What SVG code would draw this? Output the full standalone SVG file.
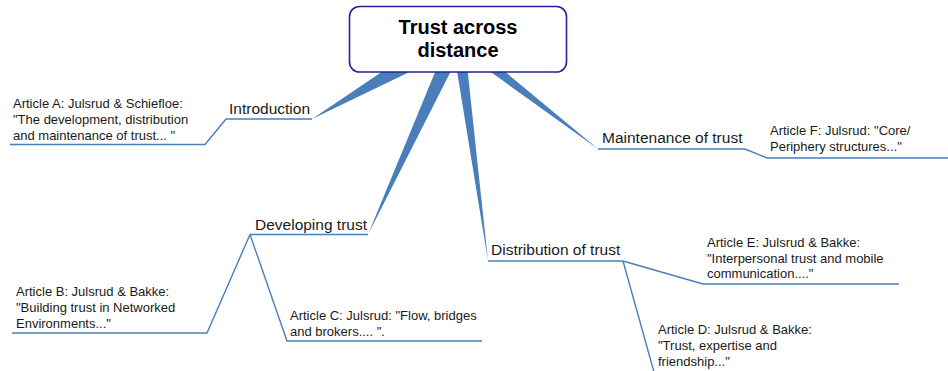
<svg xmlns="http://www.w3.org/2000/svg" width="948" height="371" viewBox="0 0 948 371">
  <style>
    .wedge { fill: #4a7ebb; stroke: none; }
    .link { fill: none; stroke: #4a7ebb; stroke-width: 1.4; stroke-linejoin: miter; }
    .title { font-family: "Liberation Sans", Arial, sans-serif; font-size: 20px; font-weight: bold; fill: #000; text-anchor: middle; }
    .topic { font-family: "Liberation Sans", Arial, sans-serif; font-size: 15.5px; fill: #1a1a1a; }
    .article { font-family: "Liberation Sans", Arial, sans-serif; font-size: 13px; fill: #1a1a1a; }
  </style>
  <rect width="948" height="371" fill="#ffffff"/>

  <!-- tapered branches from the central topic -->
  <g id="branches">
    <polygon class="wedge" points="312,119 392,65 424,65"/>
    <polygon class="wedge" points="368,234.5 438,65 454,65"/>
    <polygon class="wedge" points="488,261 456,65 467,65"/>
    <polygon class="wedge" points="598,149 481,65 497,65"/>
  </g>

  <!-- thin connectors and underlines -->
  <g id="connectors">
    <polyline class="link" points="312,119 226,119 205,144.5 10,144.5"/>
    <polyline class="link" points="368,234.5 250,234.5"/>
    <polyline class="link" points="250,234.5 207,333 12,333"/>
    <polyline class="link" points="250,234.5 287,341 482,341"/>
    <polyline class="link" points="488,261 623,261"/>
    <polyline class="link" points="623,261 703,284 899,284"/>
    <polyline class="link" points="623,261 654,372"/>
    <polyline class="link" points="598,149 745,149 767,158 948,158"/>
  </g>

  <g id="central">
    <rect x="349.5" y="6.5" width="217" height="65.5" rx="10" ry="10" fill="#ffffff" stroke="#22229a" stroke-width="1.6"/>
    <text class="title" x="458" y="33.5">Trust across</text>
    <text class="title" x="458" y="57">distance</text>
  </g>

  <g id="introduction">
    <text class="topic" x="229" y="114">Introduction</text>
  </g>
  <g id="article-a">
    <text class="article" x="13" y="108">Article A: Julsrud &amp; Schiefloe:</text>
    <text class="article" x="13" y="124">"The development, distribution</text>
    <text class="article" x="13" y="140">and maintenance of trust... "</text>
  </g>

  <g id="developing">
    <text class="topic" x="255" y="230">Developing trust</text>
  </g>
  <g id="article-b">
    <text class="article" x="16" y="296">Article B: Julsrud &amp; Bakke:</text>
    <text class="article" x="16" y="312">"Building trust in Networked</text>
    <text class="article" x="16" y="328">Environments..."</text>
  </g>
  <g id="article-c">
    <text class="article" x="290" y="320">Article C: Julsrud: "Flow, bridges</text>
    <text class="article" x="290" y="336">and brokers.... ".</text>
  </g>

  <g id="distribution">
    <text class="topic" x="491" y="255">Distribution of trust</text>
  </g>
  <g id="article-e">
    <text class="article" x="707" y="247">Article E: Julsrud &amp; Bakke:</text>
    <text class="article" x="707" y="263">"Interpersonal trust and mobile</text>
    <text class="article" x="707" y="278">communication...."</text>
  </g>
  <g id="article-d">
    <text class="article" x="658" y="334">Article D: Julsrud &amp; Bakke:</text>
    <text class="article" x="658" y="350">"Trust, expertise and</text>
    <text class="article" x="658" y="366">friendship..."</text>
  </g>

  <g id="maintenance">
    <text class="topic" x="602" y="143">Maintenance of trust</text>
  </g>
  <g id="article-f">
    <text class="article" x="770" y="135">Article F: Julsrud: "Core/</text>
    <text class="article" x="770" y="151">Periphery structures..."</text>
  </g>
</svg>
